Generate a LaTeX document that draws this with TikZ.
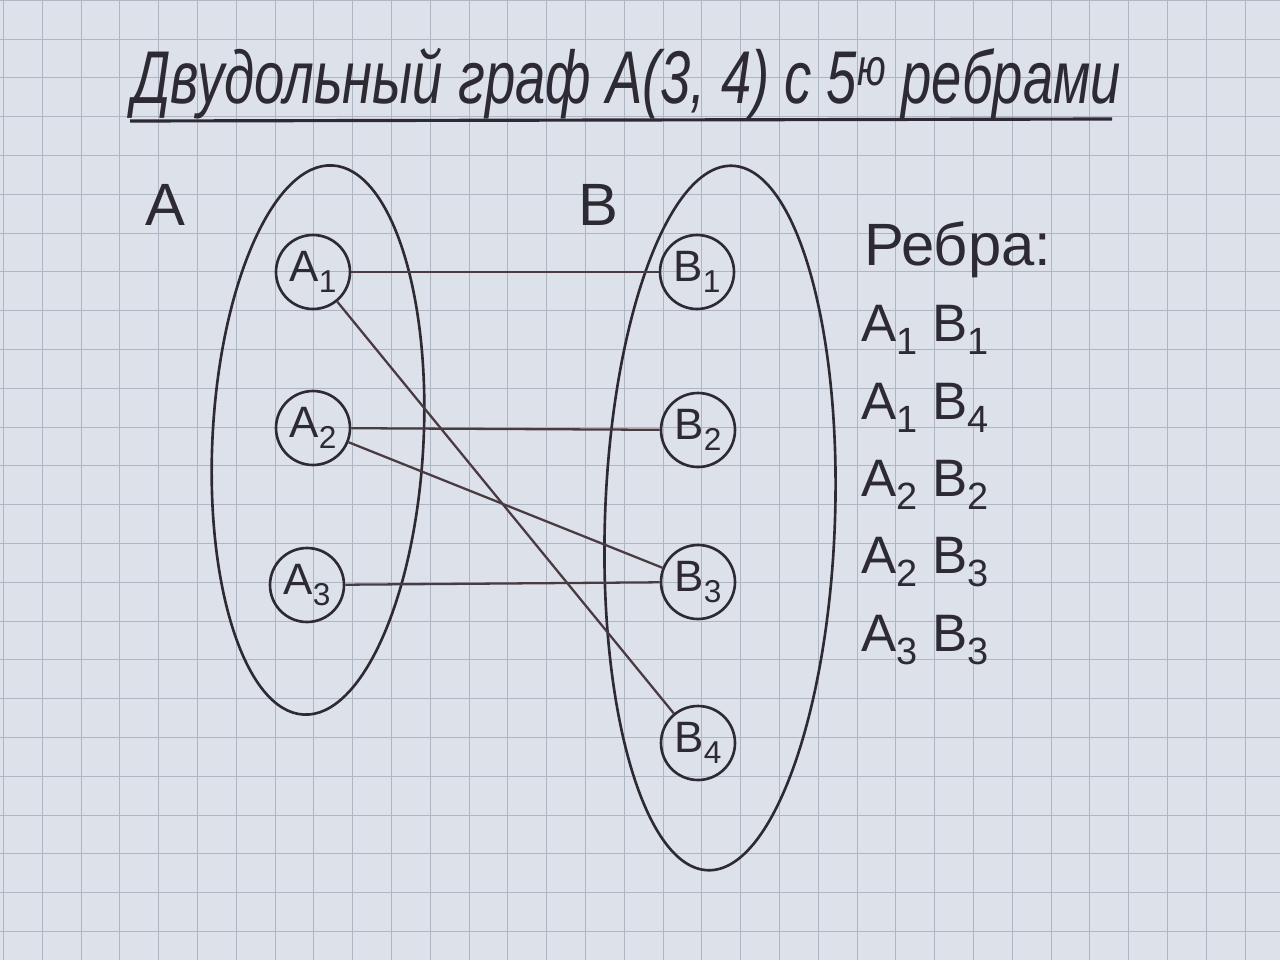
\documentclass[tikz,border=0pt]{standalone}
\usepackage{fontspec}
\setmainfont{Liberation Sans}
\usetikzlibrary{shapes.geometric}
\definecolor{paper}{HTML}{DDE2EA}
\definecolor{gridc}{HTML}{AEB6C4}
\definecolor{ink}{HTML}{2E2A33}
\definecolor{edgeink}{HTML}{4A3A42}
\newcommand\lbl[2]{#1\raisebox{-0.45ex}{\fontsize{0.72em}{1em}\selectfont #2}}
\tikzset{
  vtx/.style={circle, draw=ink, line width=1.5pt, minimum size=1.48cm, inner sep=0pt,
    font=\fontsize{25}{29}\selectfont, text=ink},
  setshape/.style={ellipse, draw=ink, line width=1.5pt, inner sep=0pt},
  edgeline/.style={draw=edgeink, line width=1.3pt},
  gridline/.style={draw=gridc, line width=0.5pt},
  setlabel/.style={font=\fontsize{34}{40}\selectfont, text=ink},
  listitem/.style={anchor=west, font=\fontsize{30}{36}\selectfont, text=ink},
}
\begin{document}
\begin{tikzpicture}[x=0.02cm,y=-0.02cm]
\useasboundingbox (0,0) rectangle (1280,960);
\fill[paper] (0,0) rectangle (1280,960);
\foreach \i in {0,...,33} \draw[gridline] (3.4+38.8*\i,0) -- (3.4+38.8*\i,960);
\foreach \j in {0,...,25} \draw[gridline] (0,0.2+38.8*\j) -- (1280,0.2+38.8*\j);

% title
\node[anchor=base west, inner sep=0pt, font=\itshape\fontsize{38}{44}\selectfont, text=ink] (title) at (132,103)
  {\scalebox{0.815}[1.12]{Двудольный граф A(3, 4) с 5\textsuperscript{ю} ребрами}};
\coordinate (ulL) at (130,121);
\coordinate (ulR) at (1112,119);
\draw[ink, line width=1.8pt] (ulL) -- (ulR);

% sets
\node[setshape, minimum width=4.22cm, minimum height=11cm, rotate=-3] (setA) at (318,440) {};
\node[setshape, minimum width=4.6cm, minimum height=14.1cm, rotate=-2] (setB) at (720,518) {};
\node[setlabel] (labA) at (165,205) {A};
\node[setlabel] (labB) at (598,205) {B};

% vertices
\node[vtx] (A1) at (313,272) {\lbl{A}{1}};
\node[vtx] (A2) at (313,428) {\lbl{A}{2}};
\node[vtx] (A3) at (307,585) {\lbl{A}{3}};
\node[vtx] (B1) at (697,272) {\lbl{B}{1}};
\node[vtx] (B2) at (698,430) {\lbl{B}{2}};
\node[vtx] (B3) at (698,582) {\lbl{B}{3}};
\node[vtx] (B4) at (698,743) {\lbl{B}{4}};

% edges
\draw[edgeline] (A1) -- (B1);
\draw[edgeline] (A1) -- (B4);
\draw[edgeline] (A2) -- (B2);
\draw[edgeline] (A2) -- (B3);
\draw[edgeline] (A3) -- (B3);

% edge list
\node[listitem, font=\fontsize{34}{40}\selectfont] (hdr) at (858,250) {Ребра:};
\node[listitem] (e1) at (855,330) {\lbl{A}{1} \lbl{B}{1}};
\node[listitem] (e2) at (855,408) {\lbl{A}{1} \lbl{B}{4}};
\node[listitem] (e3) at (855,485) {\lbl{A}{2} \lbl{B}{2}};
\node[listitem] (e4) at (855,562) {\lbl{A}{2} \lbl{B}{3}};
\node[listitem] (e5) at (855,640) {\lbl{A}{3} \lbl{B}{3}};
\end{tikzpicture}
\end{document}
